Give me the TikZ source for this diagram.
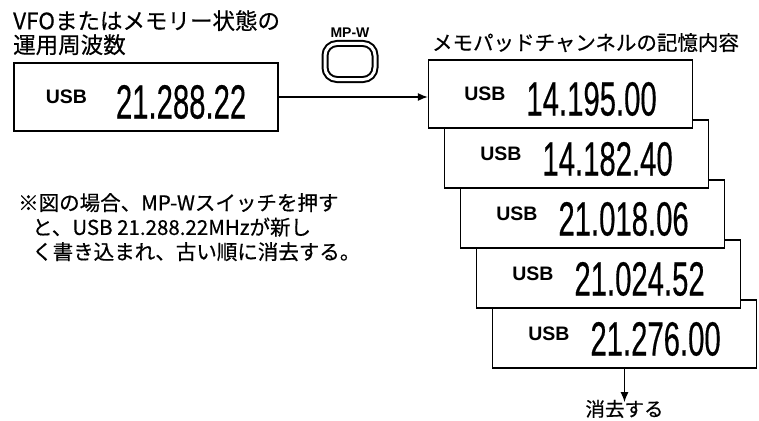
\documentclass[tikz,border=0pt]{standalone}
\usepackage{graphicx}
\usepackage{fontspec}
\setmainfont{Noto Sans CJK JP}[FakeBold=0.5]
\newfontfamily\lcdfont{Liberation Sans}
\newfontfamily\digitfont{Liberation Sans}[FakeBold=0.5]
\usetikzlibrary{arrows.meta,positioning}
\newcommand{\lcdshow}[2][21pt]{\raisebox{15pt}{\lcdfont\bfseries\fontsize{19.5}{20}\selectfont USB}\hspace{#1}\scalebox{0.61}[1]{\digitfont\fontsize{48}{48}\selectfont #2}}
\tikzset{
  lcd/.style={draw, line width=1.3pt, fill=white, inner sep=0pt, minimum width=264pt, minimum height=68pt, text height=43pt, text depth=0pt},
  arrow/.style={-{Latex[length=10pt,width=8pt]}, line width=1.3pt},
  jptext/.style={inner sep=0pt, align=left, font=\fontsize{22.5}{24}\selectfont},
  mpbtn/.style={draw, line width=2pt, double, double distance=3pt, rounded corners=12pt, minimum width=50pt, minimum height=36pt},
  btnlabel/.style={inner sep=0pt, font=\lcdfont\bfseries\fontsize{14}{14}\selectfont}
}

\begin{document}
\begin{tikzpicture}[x=1pt, y=-1pt, node distance=6pt]
  \useasboundingbox (0,0) rectangle (759,420);
  \node[jptext, anchor=north west] (srctitle) at (13,10) {VFOまたはメモリー状態の\\運用周波数};
  \node[lcd] (src) at (146,97) {\lcdshow[29pt]{21.288.22}\hspace{10pt}};
  \node[mpbtn] (mpw) at (350,61.5) {};
  \node[btnlabel, above=5pt of mpw] (mpwlabel) {MP-W};
  \foreach \i/\f in {5/21.276.00,4/21.024.52,3/21.018.06,2/14.182.40,1/14.195.00}
    \node[lcd] (m\i) at ({560.5+16*(\i-1)},{94+60*(\i-1)}) {\lcdshow{\f}};
  \node[jptext, font=\fontsize{20.5}{22}\selectfont, above=7pt of m1.north west, anchor=south west, xshift=4pt] (memtitle) {メモパッドチャンネルの記憶内容};
  \node[jptext, font=\fontsize{20.5}{24.5}\selectfont, anchor=north west] (note) at (18,193) {※図の場合、MP-Wスイッチを押す\\\hspace*{14pt}と、USB 21.288.22MHzが新し\\\hspace*{14pt}く書き込まれ、古い順に消去する。};
  \node[jptext, font=\fontsize{19.5}{20}\selectfont, below=31pt of m5] (erase) {消去する};
  \draw[arrow] (src.east) -- (src.east -| m1.west);
  \draw[arrow, shorten >=-2.5pt] (m5) -- (erase);
\end{tikzpicture}
\end{document}
